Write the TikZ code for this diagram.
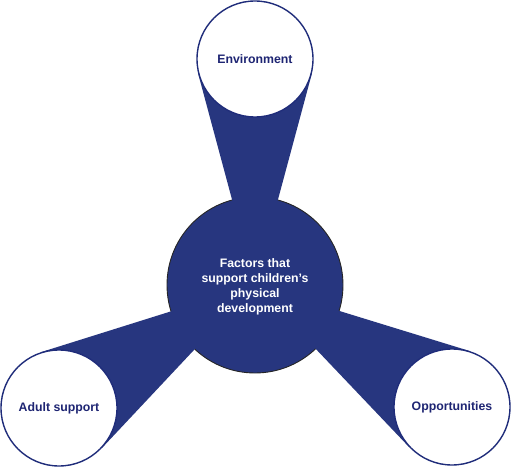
\documentclass[tikz,border=0pt]{standalone}
\usepackage{fontspec}
\setmainfont{Liberation Sans}
\usetikzlibrary{calc}
\pgfdeclarelayer{back}
\pgfdeclarelayer{mid}
\pgfsetlayers{back,mid,main}
\definecolor{navy}{HTML}{27367F}
\definecolor{navytext}{HTML}{1E2573}
\definecolor{navyline}{HTML}{1F2C7A}
\tikzset{
  outer/.style={circle, minimum size=116pt, inner sep=0pt, draw=navyline, line width=1.4pt, fill=white,
    text=navytext, font=\fontsize{12.3}{15}\selectfont\bfseries},
  hub/.style={circle, minimum size=176pt, inner sep=0pt, draw=black!85, line width=0.9pt, fill=navy},
  hubtext/.style={align=center, text=white, font=\fontsize{12.3}{15}\selectfont\bfseries, inner sep=0pt},
  spoke/.style={fill=navy, draw=none}
}
\begin{document}
\begin{tikzpicture}[x=1pt,y=-1pt]
\useasboundingbox (0,0) rectangle (512,468);
\node[outer] (env) at (255,59) {Environment};
\node[outer] (adult) at (59,408) {Adult support};
\node[outer] (opp) at (452,407) {Opportunities};
\begin{pgfonlayer}{back}
\node[hub] (c) at (255,285) {};
\end{pgfonlayer}
\begin{pgfonlayer}{mid}
\foreach \n in {env,adult,opp}{
  \fill[spoke] (c.center) -- (tangent cs:node=\n,point={(c.center)},solution=1)
     -- (tangent cs:node=\n,point={(c.center)},solution=2) -- cycle;
}
\end{pgfonlayer}
\node[hubtext] (ct) at (255,287) {Factors that\\support children’s\\physical\\development};
\end{tikzpicture}
\end{document}
